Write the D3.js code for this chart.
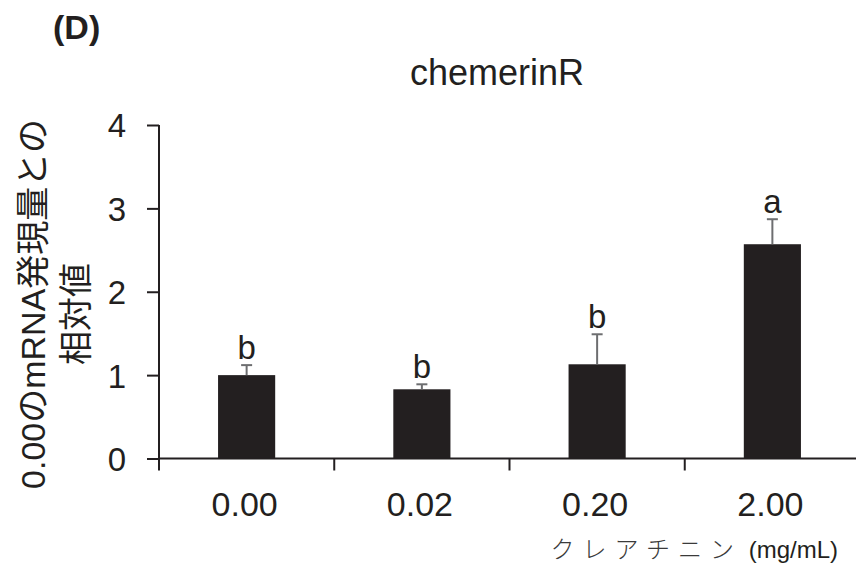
<!DOCTYPE html>
<html><head><meta charset="utf-8">
<script src="https://cdn.jsdelivr.net/npm/d3@7"></script>
<style>
html,body{margin:0;padding:0;background:#fff;}
svg{display:block;}
text{font-family:"Liberation Sans",Arial,"Noto Sans CJK JP",sans-serif;fill:#231f20;}
</style></head>
<body>
<svg id="chart" width="856" height="573"></svg>
<script>
const categories = ["0.00", "0.02", "0.20", "2.00"];
const means = [1.00, 0.83, 1.13, 2.57];
const errors = [0.12, 0.06, 0.36, 0.30];
const letters = ["b", "b", "b", "a"];
const yTicks = [0, 1, 2, 3, 4];
const panelLabel = "(D)";
const title = "chemerinR";
const yLabelLines = ["0.00のmRNA発現量との", "相対値"];
const xLabelJa = "クレアチニン";
const xLabelUnit = " (mg/mL)";

const svg = d3.select("#chart");
const ink = "#231f20";

const x = d3.scaleBand().domain(categories).range([159, 860]).paddingInner(0.674).paddingOuter(0.337);
const y = d3.scaleLinear().domain([0, 4]).range([458.5, 125]);

// bars
svg.append("g").selectAll("rect").data(categories).join("rect")
  .attr("x", d => x(d))
  .attr("width", x.bandwidth())
  .attr("y", (d, i) => y(means[i]))
  .attr("height", (d, i) => y(0) - y(means[i]))
  .attr("fill", ink);

// error bars (upper only)
const eb = svg.append("g").attr("stroke", "#6d6e70").attr("stroke-width", 2);
categories.forEach((c, i) => {
  const cx = x(c) + x.bandwidth() / 2;
  eb.append("line").attr("x1", cx).attr("x2", cx).attr("y1", y(means[i])).attr("y2", y(means[i] + errors[i]));
  eb.append("line").attr("x1", cx - 5.5).attr("x2", cx + 5.5).attr("y1", y(means[i] + errors[i])).attr("y2", y(means[i] + errors[i]));
});

// significance letters
svg.append("g").selectAll("text").data(categories).join("text")
  .attr("x", d => x(d) + x.bandwidth() / 2)
  .attr("y", (d, i) => y(means[i] + errors[i]) - 6)
  .attr("text-anchor", "middle")
  .attr("font-size", 33)
  .text((d, i) => letters[i]);

// y axis
const yAxis = d3.axisLeft(y).tickValues(yTicks).tickFormat(d3.format("d")).tickSize(12).tickPadding(21);
const gy = svg.append("g").attr("transform", "translate(159,0)").call(yAxis);
gy.select(".domain").attr("d", `M0,${y(4)}V${y(0) + 12}`).attr("stroke", ink).attr("stroke-width", 2);
gy.selectAll(".tick line").attr("stroke", ink).attr("stroke-width", 2);
gy.selectAll(".tick text").attr("font-size", 33).attr("font-family", "Liberation Sans, Arial, sans-serif").attr("fill", ink).attr("dy", "0.36em");

// x axis: boundaries ticks
const xb = d3.scaleLinear().domain([0, categories.length]).range([159, 860]);
const gx = svg.append("g").attr("transform", `translate(0,${y(0)})`);
gx.append("line").attr("x1", 159).attr("x2", 860).attr("stroke", ink).attr("stroke-width", 2);
gx.selectAll("line.b").data(d3.range(1, categories.length + 1)).join("line").attr("class", "b")
  .attr("x1", d => xb(d)).attr("x2", d => xb(d)).attr("y1", 0).attr("y2", 12)
  .attr("stroke", ink).attr("stroke-width", 2);
gx.selectAll("text").data(categories).join("text")
  .attr("x", d => x(d) + x.bandwidth() / 2 - 2)
  .attr("y", 57)
  .attr("text-anchor", "middle")
  .attr("font-size", 34)
  .text(d => d);

// panel label
svg.append("text").attr("x", 53).attr("y", 39).attr("font-size", 34).attr("font-weight", "bold").text(panelLabel);

// title
svg.append("text").attr("x", 497).attr("y", 85).attr("text-anchor", "middle").attr("font-size", 36).text(title);

// y label
const yl = [[45, 304], [88, 314]];
yLabelLines.forEach((t, i) => {
  svg.append("text")
    .attr("transform", `translate(${yl[i][0]},${yl[i][1]}) rotate(-90)`)
    .attr("text-anchor", "middle")
    .attr("font-size", 34)
    .text(t);
});

// x label
const xl = svg.append("text").attr("x", 838).attr("y", 558).attr("text-anchor", "end").attr("font-size", 24);
xl.append("tspan").attr("letter-spacing", 8).attr("fill", "#3a3a3a").attr("font-family", "Noto Sans CJK JP").attr("font-weight", 300).text(xLabelJa);
xl.append("tspan").text(xLabelUnit);
</script>
</body></html>
